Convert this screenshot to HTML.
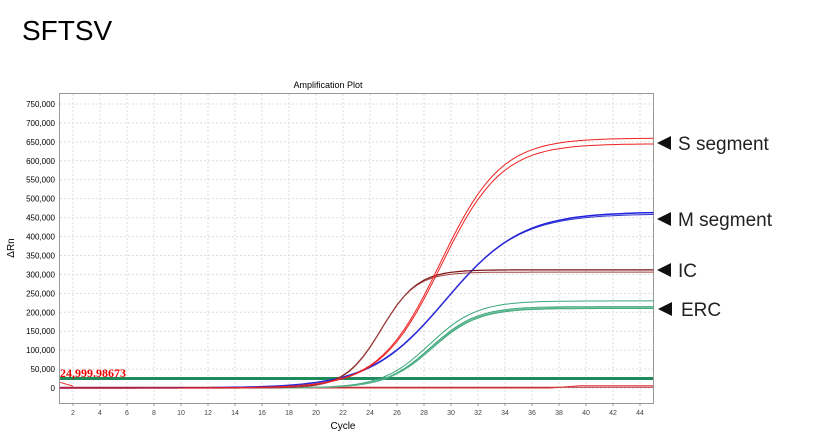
<!DOCTYPE html>
<html><head><meta charset="utf-8"><style>
body{margin:0;background:#fff;width:840px;height:433px;overflow:hidden;font-family:"Liberation Sans",sans-serif}
</style></head><body>
<svg id="s" width="840" height="433" xmlns="http://www.w3.org/2000/svg">
<text x="22" y="40" font-size="28" font-family="Liberation Sans, sans-serif" fill="#000">SFTSV</text>
<text x="328" y="88" font-size="9" text-anchor="middle" fill="#000">Amplification Plot</text>
<g id="grid"></g>
<rect x="59.5" y="93.5" width="594" height="310" fill="none" stroke="#999" stroke-width="1"/>
<text transform="translate(14,248) rotate(-90)" font-size="10" text-anchor="middle">ΔRn</text>
<text x="343" y="429" font-size="10" text-anchor="middle">Cycle</text>
<g id="curves"></g>
<text x="60" y="377" font-size="12" fill="#e00" font-family="Liberation Serif, serif" font-weight="bold">24,999.98673</text>
<g font-size="19" fill="#222">
<polygon points="657,143 671,136 671,150" fill="#111"/><text x="678" y="150">S segment</text>
<polygon points="657,219 671,212 671,226" fill="#111"/><text x="678" y="226">M segment</text>
<polygon points="657,270 671,263 671,277" fill="#111"/><text x="678" y="277">IC</text>
<polygon points="658,309 672,302 672,316" fill="#111"/><text x="681" y="316">ERC</text>
</g>
</svg>
<script>
var NS="http://www.w3.org/2000/svg";
function X(c){return 59.5+(c-1)*13.5}
function Y(v){return 388-v*284/750000}
var g=document.getElementById('grid'),h='';
for(var i=0;i<=15;i++){var y=Y(i*50000);h+='<line x1="60" x2="653" y1="'+y+'" y2="'+y+'" stroke="#ddd" stroke-dasharray="2,2"/>';
h+='<text x="55" y="'+(y+3)+'" font-size="8" text-anchor="end">'+(i*50000).toLocaleString('en-US')+'</text>';}
for(var c=2;c<=44;c+=2){var x=X(c);h+='<line y1="94" y2="403" x1="'+x+'" x2="'+x+'" stroke="#ddd" stroke-dasharray="2,2"/>';
h+='<line y1="403" y2="406" x1="'+x+'" x2="'+x+'" stroke="#999"/><text x="'+x+'" y="415" font-size="7" text-anchor="middle" fill="#444">'+c+'</text>';}
g.innerHTML=h;
function curve(P,m,s,col,w){var d='';for(var c=1;c<=45;c+=0.5){var v=P/(1+Math.exp(-(c-m)/s));d+=(c==1?'M':'L')+X(c).toFixed(1)+','+Y(v).toFixed(1);}
return '<path d="'+d+'" fill="none" stroke="'+col+'" stroke-width="'+(w||1)+'"/>';}
var k='';
k+='<line x1="60" x2="653" y1="'+Y(25000)+'" y2="'+Y(25000)+'" stroke="#1f8a5a" stroke-width="3"/>';
k+='<path d="M60,'+Y(2000)+' L653,'+Y(2000)+'" stroke="#b03040" stroke-width="1" fill="none"/>';
k+='<path d="M60,'+Y(0)+' L550,'+Y(0)+' L580,'+Y(6000)+' L653,'+Y(6000)+'" stroke="#e03030" stroke-width="1" fill="none"/>';
k+='<path d="M60,'+Y(15000)+' L73,'+Y(5000)+'" stroke="#e03030" fill="none"/>';
k+=curve(230000,28.4,1.75,'#3aa57a');k+=curve(215000,28.5,1.7,'#3aa57a');k+=curve(210000,28.6,1.7,'#3aa57a');k+=curve(212000,28.55,1.7,'#5cb890');
k+=curve(465000,29.6,2.8,'#2020e0',1.5);k+=curve(460000,29.55,2.75,'#3030d0');
k+=curve(312000,24.85,1.34,'#7a1010',1.2);k+=curve(306000,24.8,1.3,'#a04040');
k+=curve(660000,29.2,2.25,'#ee2020');k+=curve(645000,29.25,2.25,'#ee2020');
document.getElementById('curves').innerHTML=k;
</script>
</body></html>
